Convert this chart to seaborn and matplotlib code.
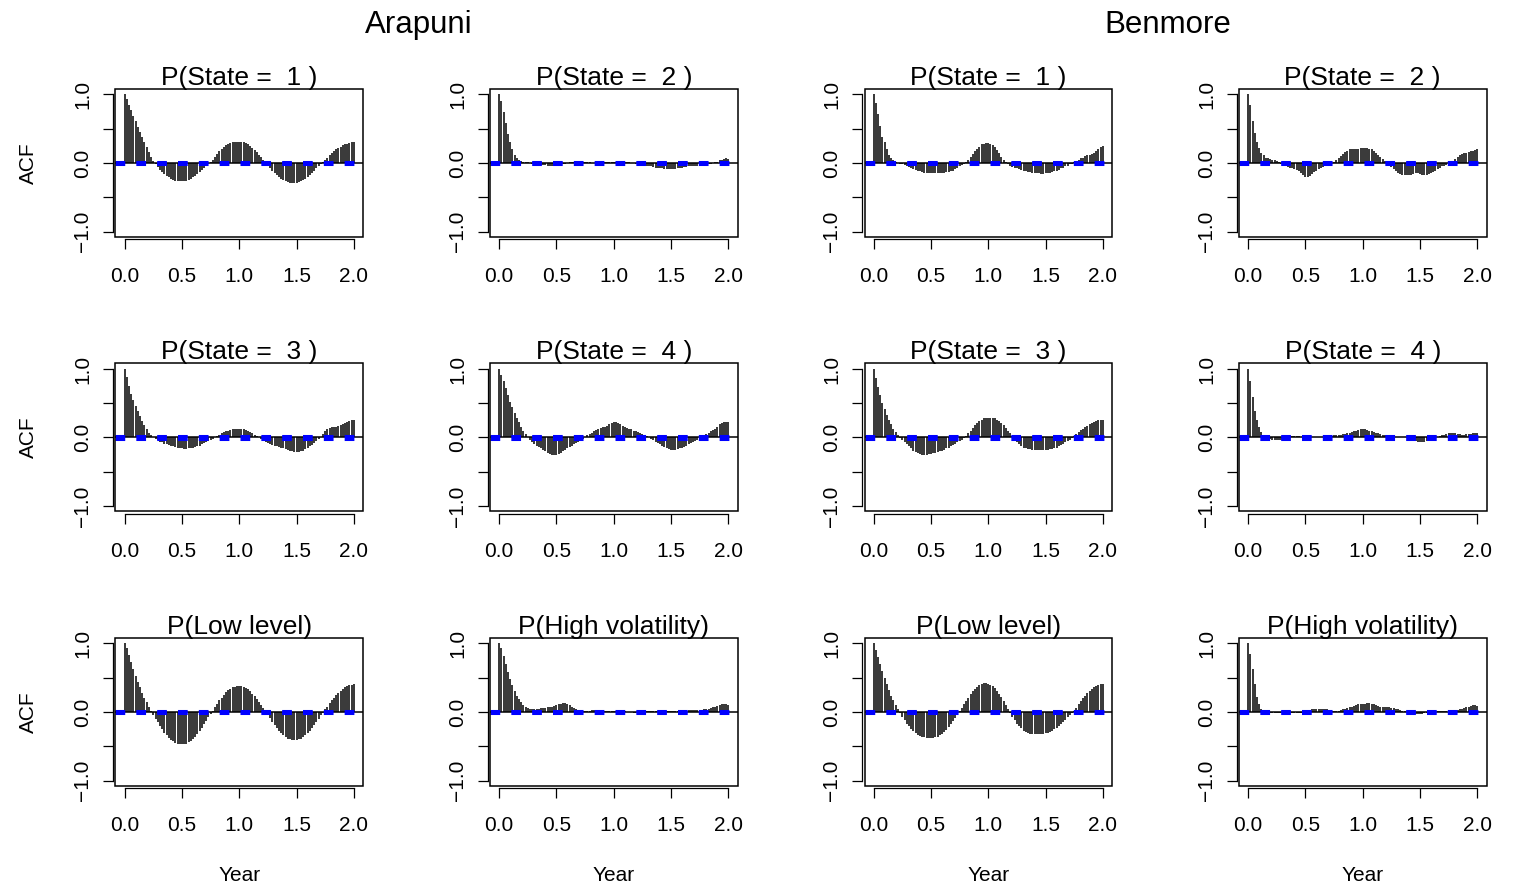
import numpy as np
import matplotlib
matplotlib.use("Agg")
import matplotlib.pyplot as plt
import seaborn as sns
from matplotlib.patches import Rectangle

# ---------------- data (ACF at weekly lags 0..104) -------------
sites = ["Arapuni", "Benmore"]
panel_titles = [["P(State =  1 )", "P(State =  2 )"],
                ["P(State =  3 )", "P(State =  4 )"],
                ["P(Low level)", "P(High volatility)"]]
x_ticks = [0.0, 0.5, 1.0, 1.5, 2.0]
x_ticklabels = ["0.0", "0.5", "1.0", "1.5", "2.0"]
y_ticks = [-1.0, -0.5, 0.0, 0.5, 1.0]
y_ticklabels = ["\u22121.0", "", "0.0", "", "1.0"]
conf_bound = 0.02
lags_per_year = 52

arapuni_state1 = [1.00,
    0.93, 0.85, 0.77, 0.69, 0.61, 0.53, 0.45, 0.38, 0.30, 0.23, 0.16, 0.09,
    0.03, -0.02, -0.06, -0.10, -0.13, -0.16, -0.19, -0.21, -0.23, -0.25, -0.26, -0.27, -0.27, -0.27,
    -0.27, -0.26, -0.25, -0.23, -0.21, -0.19, -0.16, -0.13, -0.10, -0.07, -0.04, -0.01, 0.01,
    0.05, 0.09, 0.13, 0.17, 0.20, 0.23, 0.26, 0.28, 0.29, 0.30, 0.31, 0.31, 0.31,
    0.31, 0.30, 0.29, 0.27, 0.25, 0.22, 0.19, 0.16, 0.12, 0.09, 0.05, 0.01, -0.03,
    -0.07, -0.11, -0.14, -0.18, -0.21, -0.23, -0.25, -0.27, -0.28, -0.29, -0.29, -0.29, -0.29,
    -0.28, -0.27, -0.25, -0.23, -0.21, -0.18, -0.15, -0.12, -0.08, -0.05, -0.02, 0.01, 0.04,
    0.08, 0.11, 0.14, 0.17, 0.20, 0.22, 0.24, 0.26, 0.27, 0.28, 0.29, 0.30, 0.30]

arapuni_state2 = [1.00,
    0.90, 0.74, 0.58, 0.43, 0.30, 0.20, 0.12, 0.07, 0.04, 0.03, 0.02, 0.02,
    0.01, 0.00, -0.01, -0.01, -0.02, -0.02, -0.03, -0.03, -0.03, -0.04, -0.04, -0.04, -0.04, -0.04,
    -0.03, -0.03, -0.02, -0.01, 0.00, 0.01, 0.01, 0.02, 0.02, 0.02, 0.01, 0.01, 0.01,
    0.01, 0.01, 0.00, 0.00, 0.00, 0.01, 0.01, 0.01, 0.01, 0.01, 0.01, 0.02, 0.02,
    0.02, 0.03, 0.03, 0.03, 0.02, 0.02, 0.01, 0.00, 0.00, -0.01, -0.02, -0.02, -0.03,
    -0.03, -0.04, -0.05, -0.05, -0.06, -0.07, -0.07, -0.08, -0.08, -0.09, -0.09, -0.09, -0.09,
    -0.09, -0.09, -0.08, -0.08, -0.07, -0.06, -0.06, -0.05, -0.05, -0.04, -0.04, -0.04, -0.03,
    -0.03, -0.03, -0.02, -0.02, -0.01, 0.00, 0.01, 0.02, 0.04, 0.05, 0.06, 0.07, 0.06]

arapuni_state3 = [1.00,
    0.88, 0.75, 0.64, 0.55, 0.46, 0.38, 0.31, 0.24, 0.18, 0.12, 0.07, 0.03,
    0.00, -0.02, -0.04, -0.06, -0.07, -0.09, -0.10, -0.11, -0.12, -0.13, -0.14, -0.15, -0.16, -0.16,
    -0.17, -0.17, -0.16, -0.16, -0.15, -0.14, -0.13, -0.12, -0.10, -0.08, -0.06, -0.05, -0.03,
    -0.02, 0.00, 0.02, 0.04, 0.06, 0.08, 0.09, 0.10, 0.11, 0.12, 0.12, 0.13, 0.13,
    0.13, 0.12, 0.11, 0.10, 0.08, 0.06, 0.04, 0.02, 0.00, -0.02, -0.04, -0.06, -0.08,
    -0.10, -0.11, -0.12, -0.13, -0.14, -0.15, -0.16, -0.17, -0.18, -0.19, -0.20, -0.21, -0.21,
    -0.21, -0.20, -0.19, -0.17, -0.15, -0.13, -0.11, -0.08, -0.05, -0.02, 0.01, 0.05, 0.09,
    0.12, 0.14, 0.15, 0.16, 0.16, 0.17, 0.18, 0.19, 0.21, 0.22, 0.24, 0.25, 0.26]

arapuni_state4 = [1.00,
    0.91, 0.82, 0.72, 0.62, 0.52, 0.44, 0.36, 0.29, 0.22, 0.16, 0.10, 0.05,
    0.01, -0.03, -0.06, -0.09, -0.12, -0.14, -0.16, -0.18, -0.20, -0.22, -0.24, -0.25, -0.26, -0.25,
    -0.24, -0.22, -0.20, -0.18, -0.16, -0.14, -0.12, -0.10, -0.08, -0.06, -0.04, -0.02, 0.01,
    0.03, 0.05, 0.07, 0.09, 0.11, 0.13, 0.14, 0.15, 0.16, 0.17, 0.19, 0.21, 0.22,
    0.22, 0.21, 0.19, 0.17, 0.15, 0.14, 0.13, 0.12, 0.10, 0.09, 0.08, 0.06, 0.05,
    0.03, 0.02, 0.00, -0.02, -0.04, -0.06, -0.08, -0.10, -0.12, -0.14, -0.16, -0.17, -0.18,
    -0.18, -0.18, -0.17, -0.16, -0.15, -0.14, -0.12, -0.10, -0.08, -0.07, -0.05, -0.03, -0.01,
    0.01, 0.03, 0.05, 0.07, 0.09, 0.11, 0.13, 0.16, 0.19, 0.21, 0.22, 0.23, 0.23]

arapuni_low = [1.00,
    0.93, 0.83, 0.73, 0.63, 0.53, 0.44, 0.36, 0.28, 0.21, 0.14, 0.08, 0.02,
    -0.04, -0.10, -0.15, -0.20, -0.25, -0.30, -0.34, -0.38, -0.41, -0.43, -0.45, -0.46, -0.47, -0.47,
    -0.47, -0.46, -0.44, -0.42, -0.39, -0.36, -0.32, -0.28, -0.23, -0.18, -0.13, -0.08, -0.03,
    0.02, 0.07, 0.12, 0.17, 0.21, 0.25, 0.29, 0.32, 0.34, 0.36, 0.37, 0.38, 0.38,
    0.38, 0.37, 0.35, 0.33, 0.30, 0.27, 0.23, 0.19, 0.15, 0.10, 0.06, 0.01, -0.04,
    -0.09, -0.14, -0.19, -0.23, -0.27, -0.31, -0.34, -0.37, -0.39, -0.40, -0.41, -0.41, -0.41,
    -0.40, -0.39, -0.37, -0.34, -0.31, -0.27, -0.23, -0.19, -0.14, -0.10, -0.05, -0.01, 0.04,
    0.08, 0.13, 0.17, 0.21, 0.25, 0.28, 0.31, 0.34, 0.36, 0.38, 0.39, 0.40, 0.41]

arapuni_highvol = [1.00,
    0.93, 0.82, 0.70, 0.58, 0.48, 0.39, 0.31, 0.24, 0.19, 0.14, 0.10, 0.08,
    0.06, 0.05, 0.05, 0.05, 0.05, 0.05, 0.06, 0.06, 0.06, 0.07, 0.07, 0.08, 0.09, 0.10,
    0.11, 0.12, 0.13, 0.13, 0.12, 0.10, 0.08, 0.06, 0.04, 0.03, 0.03, 0.02, 0.02,
    0.02, 0.02, 0.03, 0.03, 0.03, 0.02, 0.02, 0.02, 0.02, 0.02, 0.02, 0.02, 0.02,
    0.02, 0.01, 0.01, 0.01, 0.01, 0.00, 0.00, 0.00, -0.01, -0.01, -0.01, -0.01, 0.00,
    0.00, 0.01, 0.01, 0.02, 0.02, 0.02, 0.02, 0.01, 0.01, 0.01, 0.01, 0.01, 0.01,
    0.01, 0.01, 0.02, 0.02, 0.02, 0.03, 0.03, 0.03, 0.03, 0.03, 0.03, 0.03, 0.03,
    0.03, 0.04, 0.04, 0.05, 0.06, 0.07, 0.08, 0.09, 0.10, 0.11, 0.11, 0.11, 0.10]

benmore_state1 = [1.00,
    0.88, 0.71, 0.54, 0.38, 0.30, 0.20, 0.12, 0.07, 0.04, 0.02, 0.00, -0.01,
    -0.02, -0.03, -0.05, -0.06, -0.08, -0.09, -0.10, -0.11, -0.12, -0.13, -0.14, -0.14, -0.15, -0.15,
    -0.15, -0.15, -0.15, -0.14, -0.14, -0.14, -0.13, -0.13, -0.12, -0.11, -0.09, -0.07, -0.05,
    -0.03, -0.01, 0.02, 0.05, 0.09, 0.13, 0.17, 0.21, 0.24, 0.27, 0.28, 0.29, 0.29,
    0.28, 0.26, 0.23, 0.19, 0.14, 0.09, 0.05, 0.01, -0.02, -0.04, -0.06, -0.07, -0.08,
    -0.09, -0.10, -0.11, -0.12, -0.13, -0.13, -0.14, -0.14, -0.15, -0.15, -0.16, -0.16, -0.15,
    -0.15, -0.14, -0.13, -0.12, -0.11, -0.10, -0.08, -0.07, -0.05, -0.04, -0.02, -0.01, 0.01,
    0.03, 0.05, 0.07, 0.08, 0.10, 0.11, 0.12, 0.13, 0.15, 0.17, 0.20, 0.24, 0.25]

benmore_state2 = [1.00,
    0.85, 0.62, 0.44, 0.31, 0.22, 0.15, 0.11, 0.08, 0.07, 0.06, 0.05, 0.04,
    0.03, 0.01, -0.01, -0.03, -0.05, -0.06, -0.07, -0.08, -0.09, -0.10, -0.12, -0.15, -0.18, -0.20,
    -0.20, -0.19, -0.16, -0.13, -0.11, -0.09, -0.07, -0.06, -0.04, -0.03, -0.01, 0.00, 0.02,
    0.04, 0.07, 0.10, 0.13, 0.16, 0.18, 0.20, 0.20, 0.21, 0.21, 0.21, 0.22, 0.22,
    0.22, 0.22, 0.21, 0.20, 0.18, 0.15, 0.12, 0.09, 0.06, 0.03, 0.00, -0.03, -0.06,
    -0.09, -0.12, -0.14, -0.16, -0.17, -0.18, -0.18, -0.18, -0.17, -0.16, -0.15, -0.15, -0.16,
    -0.17, -0.17, -0.17, -0.16, -0.15, -0.13, -0.11, -0.09, -0.07, -0.05, -0.04, -0.03, -0.02,
    -0.01, 0.02, 0.06, 0.09, 0.11, 0.13, 0.14, 0.15, 0.16, 0.17, 0.18, 0.19, 0.20]

benmore_state3 = [1.00,
    0.87, 0.74, 0.62, 0.51, 0.41, 0.33, 0.26, 0.19, 0.13, 0.08, 0.03, -0.01,
    -0.04, -0.07, -0.10, -0.13, -0.16, -0.19, -0.21, -0.23, -0.24, -0.25, -0.25, -0.25, -0.24, -0.24,
    -0.23, -0.22, -0.21, -0.20, -0.19, -0.18, -0.16, -0.15, -0.13, -0.11, -0.09, -0.07, -0.05,
    -0.03, -0.01, 0.02, 0.06, 0.10, 0.14, 0.18, 0.21, 0.24, 0.26, 0.28, 0.29, 0.29,
    0.29, 0.29, 0.28, 0.26, 0.24, 0.21, 0.18, 0.14, 0.10, 0.06, 0.02, -0.02, -0.06,
    -0.10, -0.13, -0.15, -0.16, -0.17, -0.17, -0.18, -0.18, -0.18, -0.18, -0.18, -0.18, -0.18,
    -0.18, -0.17, -0.17, -0.16, -0.15, -0.13, -0.11, -0.09, -0.07, -0.05, -0.03, -0.01, 0.02,
    0.05, 0.08, 0.11, 0.13, 0.15, 0.17, 0.19, 0.21, 0.23, 0.24, 0.25, 0.26, 0.26]

benmore_state4 = [1.00,
    0.82, 0.59, 0.38, 0.26, 0.16, 0.08, 0.04, 0.01, -0.01, -0.02, -0.03, -0.04,
    -0.04, -0.04, -0.03, -0.02, -0.01, 0.00, 0.01, 0.02, 0.02, 0.02, 0.02, 0.01, 0.01, 0.01,
    0.00, 0.00, 0.00, 0.00, 0.00, 0.00, 0.01, 0.01, 0.01, 0.01, 0.02, 0.02, 0.03,
    0.03, 0.04, 0.04, 0.05, 0.05, 0.06, 0.07, 0.08, 0.09, 0.10, 0.11, 0.12, 0.12,
    0.12, 0.11, 0.10, 0.09, 0.08, 0.07, 0.06, 0.05, 0.04, 0.04, 0.03, 0.03, 0.02,
    0.02, 0.01, 0.01, 0.00, 0.00, 0.00, -0.01, -0.02, -0.03, -0.04, -0.05, -0.06, -0.07,
    -0.07, -0.06, -0.05, -0.03, -0.02, -0.01, 0.00, 0.01, 0.02, 0.03, 0.04, 0.05, 0.06,
    0.06, 0.06, 0.06, 0.05, 0.05, 0.04, 0.04, 0.05, 0.05, 0.05, 0.06, 0.06, 0.07]

benmore_low = [1.00,
    0.90, 0.80, 0.70, 0.60, 0.50, 0.41, 0.32, 0.24, 0.17, 0.10, 0.04, -0.02,
    -0.07, -0.12, -0.17, -0.21, -0.25, -0.28, -0.31, -0.33, -0.35, -0.36, -0.37, -0.38, -0.38, -0.38,
    -0.38, -0.37, -0.36, -0.34, -0.32, -0.29, -0.26, -0.22, -0.18, -0.13, -0.09, -0.04, 0.01,
    0.06, 0.11, 0.16, 0.21, 0.26, 0.30, 0.34, 0.37, 0.40, 0.41, 0.42, 0.42, 0.41,
    0.40, 0.38, 0.35, 0.31, 0.27, 0.22, 0.16, 0.10, 0.04, -0.02, -0.07, -0.12, -0.17,
    -0.21, -0.24, -0.27, -0.29, -0.31, -0.32, -0.32, -0.32, -0.32, -0.32, -0.32, -0.32, -0.31,
    -0.30, -0.29, -0.27, -0.25, -0.23, -0.20, -0.17, -0.14, -0.11, -0.08, -0.05, -0.02, 0.02,
    0.06, 0.11, 0.16, 0.20, 0.24, 0.28, 0.31, 0.34, 0.36, 0.38, 0.40, 0.41, 0.41]

benmore_highvol = [1.00,
    0.85, 0.63, 0.41, 0.22, 0.11, 0.05, 0.02, 0.01, 0.00, -0.01, -0.01, -0.02,
    -0.02, -0.02, -0.02, -0.02, -0.02, -0.02, -0.02, -0.02, -0.02, -0.02, -0.01, -0.01, 0.00, 0.01,
    0.02, 0.03, 0.04, 0.05, 0.05, 0.05, 0.05, 0.05, 0.05, 0.04, 0.03, 0.02, 0.02,
    0.02, 0.02, 0.03, 0.04, 0.05, 0.06, 0.07, 0.08, 0.09, 0.10, 0.11, 0.11, 0.12,
    0.12, 0.13, 0.13, 0.12, 0.11, 0.10, 0.09, 0.08, 0.08, 0.07, 0.07, 0.07, 0.06,
    0.06, 0.05, 0.04, 0.03, 0.02, 0.01, 0.00, -0.01, -0.02, -0.03, -0.03, -0.03, -0.03,
    -0.03, -0.02, -0.02, -0.01, -0.01, 0.00, 0.00, 0.01, 0.01, 0.02, 0.02, 0.02, 0.02,
    0.02, 0.02, 0.03, 0.03, 0.04, 0.05, 0.06, 0.07, 0.08, 0.09, 0.10, 0.10, 0.09]

acf_grid = {
    "Arapuni": [[arapuni_state1, arapuni_state2],
                [arapuni_state3, arapuni_state4],
                [arapuni_low, arapuni_highvol]],
    "Benmore": [[benmore_state1, benmore_state2],
                [benmore_state3, benmore_state4],
                [benmore_low, benmore_highvol]],
}

# ---------------- style ----------------
sns.set_theme(style="white")
plt.rcParams["font.family"] = ["Liberation Sans", "DejaVu Sans"]
plt.rcParams["lines.scale_dashes"] = False
plt.rcParams["axes.unicode_minus"] = True

W, H = 1517, 888
fig = plt.figure(figsize=(W / 100, H / 100), dpi=100)

PX = 0.72  # points per pixel at dpi 100
box_w, box_h = 247.5, 148
lefts = [115.5 + 374.5 * c for c in range(4)]
tops = [89 + 274.5 * r for r in range(3)]

for si, site in enumerate(sites):
    for r in range(3):
        for cc in range(2):
            c = si * 2 + cc
            vals = np.asarray(acf_grid[site][r][cc])
            lags = np.arange(len(vals)) / lags_per_year
            L, T = lefts[c], tops[r]
            ax = fig.add_axes([L / W, 1 - (T + box_h) / H, box_w / W, box_h / H])
            ax.vlines(lags, 0, vals, color="black", lw=1.1)
            ax.axhline(0, color="black", lw=1.1)
            for b in (conf_bound, -conf_bound):
                ax.axhline(b, color="#0000FF", lw=2.2, dashes=(7.0, 8.0))
            ax.set_xlim(-0.08, 2.08)
            ax.set_ylim(-1.08, 1.08)
            for s in ("top", "right"):
                ax.spines[s].set_visible(False)
            ax.spines["left"].set_position(("outward", 1.5))
            ax.spines["bottom"].set_position(("outward", 1.5))
            ax.spines["left"].set_bounds(-1, 1)
            ax.spines["bottom"].set_bounds(0, 2)
            for s in ("left", "bottom"):
                ax.spines[s].set_color("black")
                ax.spines[s].set_linewidth(0.9)
            ax.add_patch(Rectangle((0, 0), 1, 1, transform=ax.transAxes, fill=False,
                                   edgecolor="black", lw=1.1, clip_on=False, zorder=5))
            ax.set_xticks(x_ticks)
            ax.set_xticklabels(x_ticklabels)
            ax.set_yticks(y_ticks)
            ax.set_yticklabels(y_ticklabels, rotation=90, va="center")
            ax.tick_params(axis="both", which="major", direction="out", length=10 * PX,
                           width=0.9, color="black", labelsize=15, labelcolor="black",
                           left=True, bottom=True)
            ax.tick_params(axis="x", pad=18 * PX)
            ax.tick_params(axis="y", pad=11 * PX)
            ax.grid(False)
            ax.set_facecolor("white")
            ax.set_title(panel_titles[r][cc], fontsize=19, pad=3, color="black")

# outer texts
site_x = [419, 1168]
for site, x in zip(sites, site_x):
    fig.text(x / W, 1 - 25 / H, site, ha="center", va="center", fontsize=22.5, color="black")
for r in range(3):
    fig.text(28 / W, 1 - (tops[r] + box_h / 2) / H, "ACF", rotation=90,
             ha="center", va="center", fontsize=15, color="black")
for c in range(4):
    fig.text((lefts[c] + box_w / 2) / W, 1 - 875 / H, "Year", ha="center", va="center",
             fontsize=15, color="black")

fig.savefig("out.png", dpi=100, facecolor="white")
